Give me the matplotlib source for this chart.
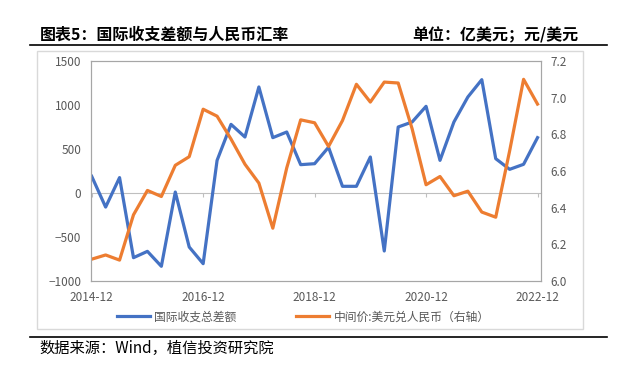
import matplotlib
matplotlib.use("Agg")
import matplotlib.pyplot as plt
import matplotlib.lines as mlines
import matplotlib.patches as mpatches

plt.rcParams['font.family'] = ['Noto Sans CJK SC', 'DejaVu Sans']

# quarterly data, 2014-12 .. 2022-12
bop = [190, -160, 175, -735, -663, -833, 11, -614, -803, 371, 780, 636, 1205,
       629, 693, 322, 333, 520, 76, 76, 409, -659, 750, 807, 985, 371, 807,
       1091, 1288, 390, 269, 326, 629]
cny = [6.119, 6.142, 6.114, 6.361, 6.494, 6.461, 6.631, 6.678, 6.937, 6.899,
       6.774, 6.637, 6.534, 6.288, 6.617, 6.879, 6.863, 6.734, 6.875, 7.073,
       6.976, 7.085, 7.080, 6.830, 6.525, 6.570, 6.465, 6.490, 6.376, 6.348,
       6.710, 7.100, 6.965]
tick_idx = [0, 8, 16, 24, 32]
tick_labels = ['2014-12', '2016-12', '2018-12', '2020-12', '2022-12']

W, H = 641, 385
fig = plt.figure(figsize=(W / 100, H / 100), dpi=100)
ax = fig.add_axes([91 / W, 1 - 281 / H, (541 - 91) / W, (281 - 61) / H])
ax2 = ax.twinx()

grey = '#595959'
spine_c = '#A6A6A6'
x = list(range(len(bop)))
l1, = ax.plot(x, bop, color='#4472C4', lw=2.3, label='国际收支总差额')
l2, = ax2.plot(x, cny, color='#ED7D31', lw=2.3, label='中间价:美元兑人民币（右轴）')

ymin, ymax = -1000, 1500
ax.set_ylim(ymin, ymax)
ax.set_yticks(range(-1000, 1501, 500))
ax2.set_ylim(6.0, 7.2)
ax2.set_yticks([6.0, 6.2, 6.4, 6.6, 6.8, 7.0, 7.2])
ax2.set_yticklabels([f'{v:.1f}' for v in ax2.get_yticks()])
ax.set_xlim(-0.05, 32.25)
ax.set_xticks(tick_idx)
ax.set_xticklabels(tick_labels)

for a in (ax, ax2):
    for s in a.spines.values():
        s.set_color(spine_c)
        s.set_linewidth(0.8)
ax.tick_params(axis='both', length=0, colors=grey, labelsize=8.5, pad=7)
ax2.tick_params(axis='y', length=0, colors=grey, labelsize=8.5, pad=7)

# category axis crossing at zero
sec = ax.secondary_xaxis((0 - ymin) / (ymax - ymin))
sec.set_xticks(tick_idx)
sec.tick_params(length=3, color='#BFBFBF', labelbottom=False)
sec.spines['bottom'].set_color('#BFBFBF')
sec.spines['bottom'].set_linewidth(0.8)

fig.legend(handles=[l1, l2], loc='center', bbox_to_anchor=(303 / W, 1 - 317 / H),
           ncol=2, frameon=False, fontsize=8.5, labelcolor=grey,
           handlelength=2.8, handletextpad=0.4, columnspacing=5.0)

# frame and decorations
fig.add_artist(mpatches.Rectangle((37 / W, 1 - 329 / H), (583 - 37) / W, (329 - 51) / H,
                                  transform=fig.transFigure, fill=False,
                                  edgecolor='#D9D9D9', lw=1))
for yy in (45, 337):
    fig.add_artist(mlines.Line2D([30 / W, 607 / W], [1 - yy / H, 1 - yy / H],
                                 transform=fig.transFigure, color='black', lw=1.2))

fig.text(40 / W, 1 - 35 / H, '图表5：国际收支差额与人民币汇率', fontsize=11.5,
         weight='bold', va='center', ha='left')
fig.text(578 / W, 1 - 35 / H, '单位：亿美元；元/美元', fontsize=11.5,
         weight='bold', va='center', ha='right')
fig.text(39 / W, 1 - 348 / H, '数据来源：Wind，植信投资研究院', fontsize=11,
         va='center', ha='left')

fig.savefig('out.png', dpi=100)
